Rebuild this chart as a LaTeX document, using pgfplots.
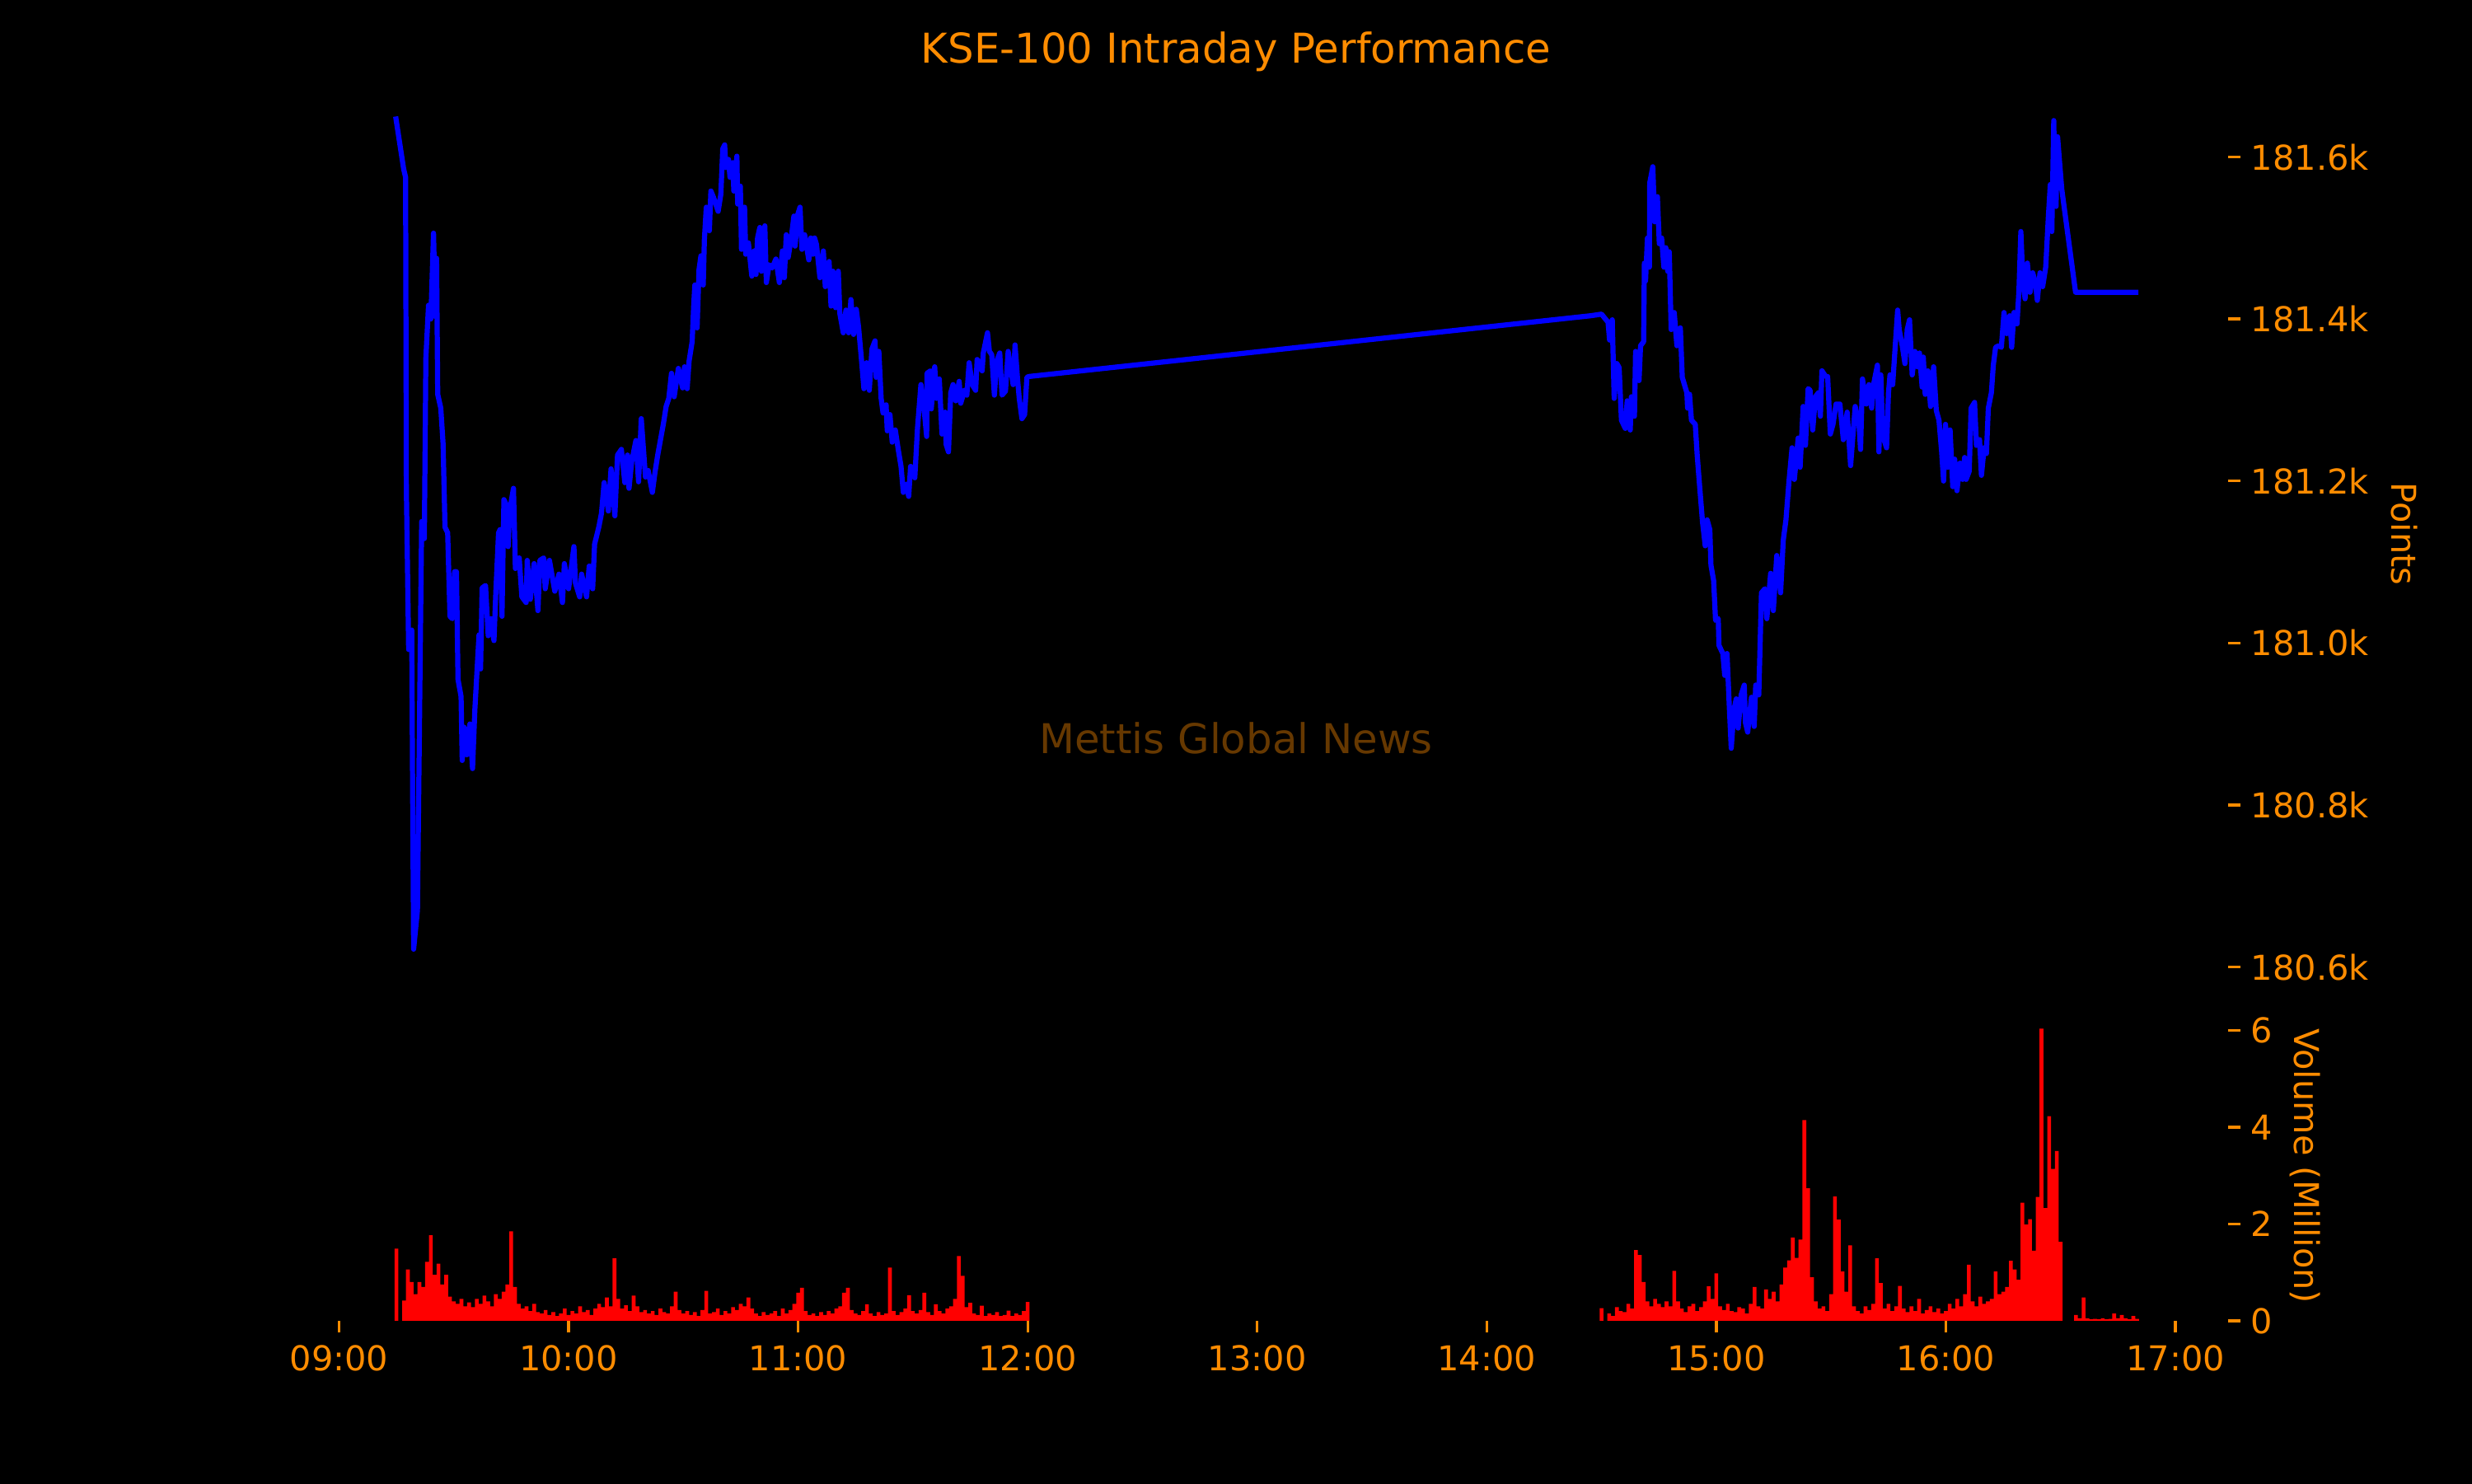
\documentclass[border=0pt]{standalone}
\usepackage{fontspec}
\setmainfont{DejaVu Sans}
\usepackage{pgfplots}
\pgfplotsset{compat=1.18}
\definecolor{dorange}{HTML}{FF8C00}
\definecolor{wmark}{RGB}{102,56,0}
\pgfplotstableread{
m v
15 1.49
17 0.42
18 1.06
19 0.80
20 0.55
21 0.80
22 0.70
23 1.22
24 1.77
25 0.95
26 1.18
27 0.75
28 0.95
29 0.50
30 0.40
31 0.35
32 0.45
33 0.30
34 0.38
35 0.28
36 0.45
37 0.35
38 0.52
39 0.40
40 0.30
41 0.55
42 0.45
43 0.60
44 0.75
45 1.85
46 0.70
47 0.35
48 0.25
49 0.30
50 0.20
51 0.35
52 0.18
53 0.15
54 0.22
55 0.12
56 0.18
57 0.10
58 0.15
59 0.25
60 0.12
61 0.20
62 0.15
63 0.30
64 0.18
65 0.22
66 0.12
67 0.25
68 0.35
69 0.28
70 0.48
71 0.30
72 1.29
73 0.45
74 0.25
75 0.32
76 0.20
77 0.52
78 0.30
79 0.18
80 0.22
81 0.15
82 0.20
83 0.12
84 0.25
85 0.18
86 0.15
87 0.30
88 0.60
89 0.22
90 0.15
91 0.20
92 0.12
93 0.18
94 0.10
95 0.22
96 0.62
97 0.15
98 0.18
99 0.25
100 0.12
101 0.20
102 0.15
103 0.28
104 0.22
105 0.35
106 0.30
107 0.48
108 0.25
109 0.15
110 0.10
111 0.18
112 0.12
113 0.15
114 0.20
115 0.10
116 0.25
117 0.15
118 0.22
119 0.35
120 0.58
121 0.68
122 0.20
123 0.12
124 0.15
125 0.10
126 0.18
127 0.12
128 0.20
129 0.15
130 0.25
131 0.30
132 0.58
133 0.68
134 0.22
135 0.15
136 0.12
137 0.20
138 0.34
139 0.15
140 0.10
141 0.18
142 0.12
143 0.15
144 1.10
145 0.20
146 0.12
147 0.18
148 0.25
149 0.53
150 0.20
151 0.15
152 0.22
153 0.58
154 0.18
155 0.12
156 0.34
157 0.20
158 0.15
159 0.25
160 0.30
161 0.45
162 1.34
163 0.93
164 0.28
165 0.37
166 0.15
167 0.12
168 0.31
169 0.10
170 0.15
171 0.12
172 0.18
173 0.10
174 0.12
175 0.21
176 0.10
177 0.15
178 0.12
179 0.20
180 0.39
330 0.26
332 0.15
333 0.10
334 0.28
335 0.20
336 0.18
337 0.35
338 0.25
339 1.46
340 1.36
341 0.80
342 0.40
343 0.30
344 0.45
345 0.35
346 0.28
347 0.40
348 0.30
349 1.03
350 0.40
351 0.25
352 0.18
353 0.30
354 0.35
355 0.20
356 0.28
357 0.40
358 0.71
359 0.45
360 0.98
361 0.30
362 0.22
363 0.35
364 0.20
365 0.18
366 0.28
367 0.25
368 0.15
369 0.35
370 0.70
371 0.30
372 0.25
373 0.65
374 0.45
375 0.60
376 0.40
377 0.75
378 1.10
379 1.25
380 1.72
381 1.30
382 1.68
383 4.15
384 2.74
385 0.90
386 0.40
387 0.25
388 0.30
389 0.20
390 0.55
391 2.57
392 2.09
393 1.02
394 0.60
395 1.56
396 0.30
397 0.20
398 0.15
399 0.30
400 0.22
401 0.35
402 1.29
403 0.78
404 0.25
405 0.35
406 0.20
407 0.30
408 0.72
409 0.25
410 0.18
411 0.30
412 0.20
413 0.45
414 0.15
415 0.22
416 0.30
417 0.18
418 0.25
419 0.15
420 0.20
421 0.35
422 0.25
423 0.45
424 0.30
425 0.55
426 1.16
427 0.40
428 0.30
429 0.50
430 0.35
431 0.40
432 0.45
433 1.02
434 0.55
435 0.60
436 0.70
437 1.24
438 1.06
439 0.85
440 2.44
441 1.99
442 2.10
443 1.45
444 2.56
445 6.04
446 2.33
447 4.23
448 3.14
449 3.51
450 1.63
454 0.12
455 0.05
456 0.48
457 0.05
458 0.03
459 0.04
460 0.03
461 0.05
462 0.03
463 0.04
464 0.15
465 0.05
466 0.12
467 0.05
468 0.03
469 0.10
470 0.04
}\voltable
\pgfplotstableread{
m p
14.8 181650
16.9 181585
17.4 181575
17.6 181191
18.2 180992
19.0 181016
19.2 180848
19.5 180622
20.5 180670
21.6 181150
22.3 181129
22.7 181352
23.4 181417
24.0 181400
24.7 181506
25.2 181403
25.5 181475
25.8 181307
26.6 181290
27.2 181246
27.7 181143
28.4 181136
29.0 181033
29.6 181030
30.2 181088
30.7 181088
31.1 180955
31.9 180934
32.2 180855
32.7 180896
33.4 180862
34.2 180900
34.9 180845
35.5 180917
36.3 180985
36.6 181010
37.0 180968
37.4 181068
38.3 181071
39.0 181009
39.7 181030
40.5 181003
41.0 181064
41.7 181136
42.1 181140
42.6 181033
43.1 181177
43.6 181172
44.2 181119
44.6 181163
45.6 181191
46.1 181092
47.1 181105
47.8 181057
48.9 181050
49.2 181102
50.0 181054
51.0 181098
52.0 181040
52.5 181102
53.5 181105
53.9 181067
55.0 181102
56.4 181064
57.5 181085
58.4 181050
58.9 181098
60.0 181067
61.4 181119
61.8 181074
62.9 181057
63.4 181085
64.7 181057
65.4 181095
66.3 181067
66.8 181122
67.9 181143
68.6 181160
69.3 181198
70.4 181163
71.1 181215
72.1 181157
72.8 181232
73.8 181239
74.7 181198
75.4 181232
75.8 181191
76.5 181224
77.6 181250
78.3 181199
79.0 181277
80.1 181205
80.8 181213
81.9 181186
82.6 181211
83.3 181232
84.8 181271
85.5 181292
86.2 181302
86.9 181333
87.6 181304
88.7 181339
89.8 181315
90.3 181341
91.0 181314
91.5 181348
92.3 181372
92.7 181416
93.0 181442
93.6 181389
94.1 181461
94.6 181478
95.2 181442
95.5 181498
96.0 181538
96.8 181509
97.2 181558
97.9 181550
99.1 181533
99.8 181554
100.3 181610
100.8 181615
101.1 181587
101.8 181597
102.2 181575
102.9 181593
103.2 181558
104.0 181601
104.2 181542
104.9 181564
105.2 181486
106.0 181538
106.3 181480
107.0 181494
107.9 181453
108.5 181484
109.0 181455
109.4 181500
110.0 181513
110.4 181459
111.3 181515
111.7 181445
112.4 181467
113.2 181463
114.2 181474
115.1 181445
115.9 181484
116.4 181451
116.9 181504
117.4 181476
118.2 181500
118.9 181527
119.2 181490
119.9 181529
120.5 181538
121.0 181486
121.7 181504
122.8 181473
123.3 181500
123.9 181480
124.3 181500
124.8 181492
125.7 181451
126.6 181484
127.1 181440
128.1 181471
128.6 181416
129.1 181459
129.8 181414
130.5 181459
130.9 181407
131.8 181383
132.5 181411
133.2 181383
133.8 181424
134.5 181381
135.2 181412
135.8 181390
136.5 181353
137.2 181314
137.9 181346
138.6 181312
139.3 181363
140.1 181373
140.4 181328
141.1 181360
141.7 181302
142.2 181284
143.0 181294
143.3 181262
144.0 181282
144.6 181248
145.4 181263
146.2 181238
146.9 181218
147.5 181186
148.3 181196
148.9 181181
149.4 181218
150.5 181204
151.2 181265
152.1 181319
153.0 181285
153.6 181255
153.7 181333
154.6 181336
154.8 181289
155.7 181341
156.2 181302
156.9 181326
157.6 181258
158.4 181285
158.7 181245
159.3 181236
159.9 181309
160.5 181319
161.2 181299
162.1 181323
162.5 181296
163.5 181312
164.1 181306
164.7 181346
165.5 181319
166.4 181312
166.8 181350
167.6 181344
168.1 181336
168.4 181358
169.5 181383
170.0 181360
170.6 181356
171.3 181306
171.9 181348
172.7 181358
173.3 181306
174.2 181311
174.9 181360
176.2 181319
176.7 181368
177.4 181323
177.8 181302
178.5 181277
179.2 181282
179.8 181328
180.3 181329
327.1 181404
330.0 181406
331.7 181396
332.1 181374
332.8 181399
333.3 181302
334.0 181345
334.6 181340
335.2 181275
336.2 181265
336.7 181299
337.5 181263
337.8 181304
338.6 181280
338.9 181360
339.8 181324
340.2 181367
341.0 181372
341.2 181469
341.5 181447
342.0 181500
342.5 181464
342.6 181568
343.4 181588
343.9 181520
344.6 181551
345.1 181493
345.7 181500
346.3 181464
346.8 181488
347.3 181459
347.7 181483
348.2 181387
349.0 181408
349.7 181367
350.6 181389
351.1 181328
352.3 181309
352.5 181290
353.0 181307
353.5 181275
354.5 181270
355.0 181232
355.7 181190
356.4 181149
357.1 181120
357.6 181152
358.3 181140
358.6 181096
359.3 181077
359.8 181028
360.5 181030
360.7 180997
361.7 180987
362.2 180960
362.8 180987
363.4 180921
363.9 180870
364.6 180917
365.2 180931
365.7 180895
366.5 180936
367.3 180948
367.6 180902
368.2 180890
369.2 180933
369.9 180897
370.3 180948
371.1 180936
371.8 181062
372.7 181067
373.2 181030
374.2 181086
374.9 181040
375.8 181108
376.8 181062
377.5 181127
378.2 181152
379.0 181200
379.8 181241
380.4 181202
381.4 181253
381.9 181217
382.7 181292
383.3 181244
384.0 181314
384.5 181312
385.2 181263
385.9 181304
386.7 181309
387.2 181280
387.6 181336
388.6 181329
389.1 181329
389.8 181258
390.5 181270
391.3 181295
392.3 181295
393.2 181251
394.2 181285
395.1 181219
396.3 181292
397.3 181270
397.7 181239
398.2 181326
399.2 181295
399.9 181319
400.6 181290
401.1 181319
402.1 181343
402.5 181236
403.0 181331
403.5 181256
404.5 181241
405.0 181309
405.4 181331
406.1 181319
406.7 181362
407.4 181411
407.8 181387
408.6 181367
409.3 181345
409.9 181387
410.5 181399
411.2 181331
411.9 181360
412.6 181341
413.1 181358
413.8 181316
414.1 181353
414.6 181307
415.3 181336
416.0 181292
416.8 181341
417.5 181287
418.2 181275
418.9 181236
419.4 181200
419.9 181270
420.5 181217
421.1 181263
421.8 181193
422.3 181227
422.9 181188
423.7 181222
424.4 181202
424.9 181229
425.3 181202
426.1 181212
426.6 181290
427.5 181297
428.0 181244
428.8 181251
429.3 181207
430.0 181241
430.6 181234
431.1 181290
431.9 181309
432.4 181343
433.0 181365
433.8 181367
434.5 181365
435.2 181408
435.9 181382
436.7 181404
437.2 181365
437.8 181408
438.6 181394
439.1 181435
439.6 181508
440.1 181450
440.7 181425
441.3 181469
442.0 181433
442.7 181457
443.4 181445
443.9 181423
444.6 181457
445.3 181440
446.1 181464
446.8 181527
447.3 181566
447.7 181508
448.2 181645
448.5 181560
448.8 181539
449.2 181625
449.7 181595
450.3 181560
453.9 181433
470.3 181433
}\pricetable
\begin{document}
\begin{tikzpicture}[x=1in,y=1in]
\path[use as bounding box] (0,0) rectangle (10,6);
\fill[black] (-0.05,-0.05) rectangle (10.05,6.05);
\begin{axis}[
  at={(1.2507in,1.980in)}, anchor=south west, scale only axis,
  width=7.763in, height=3.719in,
  xmin=-7.8, xmax=493.8, ymin=180567, ymax=181702,
  axis line style={draw=none},
  xtick=\empty,
  ytick={180600,180800,181000,181200,181400,181600},
  yticklabels={180.6k,180.8k,181.0k,181.2k,181.4k,181.6k},
  scaled y ticks=false,
  ytick pos=right, yticklabel pos=right,
  tick align=outside, major tick length=3.5pt,
  tick style={dorange, line width=0.8pt},
  yticklabel style={text=dorange, anchor=west, inner sep=0pt, xshift=3pt},
  clip=false,
]
\addplot[blue, line width=1.5pt, line join=round] table[x=m,y=p] {\pricetable};
\end{axis}
\begin{axis}[
  at={(1.2507in,0.657in)}, anchor=south west, scale only axis,
  width=7.763in, height=1.252in,
  xmin=-7.8, xmax=493.8, ymin=0, ymax=6.4,
  axis line style={draw=none},
  xtick={0,60,120,180,240,300,360,420,480},
  xticklabels={09:00,10:00,11:00,12:00,13:00,14:00,15:00,16:00,17:00},
  ytick={0,2,4,6}, yticklabels={0,2,4,6},
  scaled y ticks=false,
  ytick pos=right, yticklabel pos=right,
  xtick pos=bottom, xticklabel pos=bottom,
  tick align=outside, major tick length=3.5pt,
  tick style={dorange, line width=0.8pt},
  yticklabel style={text=dorange, anchor=west, inner sep=0pt, xshift=3pt},
  xticklabel style={text=dorange, anchor=north, inner sep=0pt, yshift=-3.5pt},
]
\addplot[ybar, bar width=1.0, fill=red, draw=none] table[x=m,y=v] {\voltable};
\end{axis}
\node[text=dorange, font=\fontsize{12}{14}\selectfont, anchor=base] at (5,5.745) {KSE-100 Intraday Performance};
\node[text=wmark, font=\fontsize{12}{14}\selectfont, anchor=base] at (5,2.951) {Mettis Global News};
\node[text=dorange, rotate=-90] at (9.726,3.84) {Points};
\node[text=dorange, rotate=-90] at (9.325,1.283) {Volume (Million)};
\end{tikzpicture}
\end{document}
